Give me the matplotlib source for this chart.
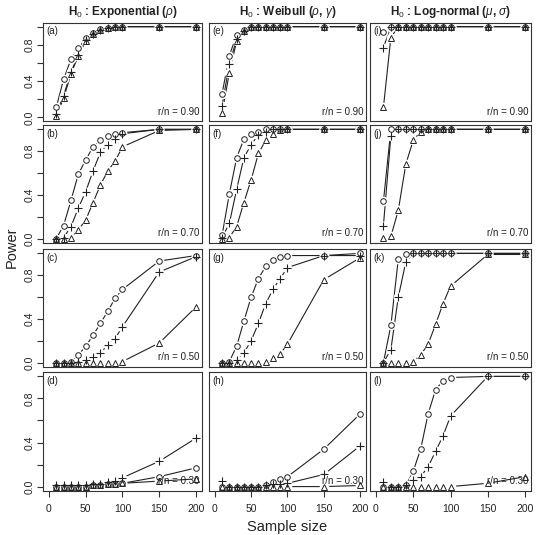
import matplotlib
matplotlib.use('Agg')
import matplotlib.pyplot as plt

plt.rcParams['font.family'] = 'Liberation Sans'
plt.rcParams['mathtext.fontset'] = 'custom'
plt.rcParams['mathtext.rm'] = 'Liberation Sans'
plt.rcParams['mathtext.it'] = 'Liberation Sans:italic'
plt.rcParams['mathtext.bf'] = 'Liberation Sans:bold'

# sample sizes
n = [10, 20, 30, 40, 50, 60, 70, 80, 90, 100, 150, 200]

titles = [r'$\mathbf{H}_0$ : Exponential ($\rho$)',
          r'$\mathbf{H}_0$ : Weibull ($\rho$, $\gamma$)',
          r'$\mathbf{H}_0$ : Log-normal ($\mu$, $\sigma$)']
ratios = ['0.90', '0.70', '0.50', '0.30']
letters = [['a', 'e', 'i'], ['b', 'f', 'j'], ['c', 'g', 'k'], ['d', 'h', 'l']]

# power values: circle / plus / triangle series
a_circ = [0.11, 0.42, 0.64, 0.76, 0.87, 0.93, 0.97, 0.99, 1.0, 1.0, 1.0, 1.0]
a_plus = [0.04, 0.24, 0.50, 0.69, 0.85, 0.92, 0.96, 0.98, 1.0, 1.0, 1.0, 1.0]
a_tri = [0.02, 0.21, 0.48, 0.68, 0.84, 0.92, 0.96, 0.98, 1.0, 1.0, 1.0, 1.0]

e_circ = [0.26, 0.68, 0.91, 0.96, 1.0, 1.0, 1.0, 1.0, 1.0, 1.0, 1.0, 1.0]
e_plus = [0.13, 0.59, 0.86, 0.95, 1.0, 1.0, 1.0, 1.0, 1.0, 1.0, 1.0, 1.0]
e_tri = [0.05, 0.49, 0.84, 0.95, 1.0, 1.0, 1.0, 1.0, 1.0, 1.0, 1.0, 1.0]

i_circ = [0.94, 1.0, 1.0, 1.0, 1.0, 1.0, 1.0, 1.0, 1.0, 1.0, 1.0, 1.0]
i_plus = [0.77, 1.0, 1.0, 1.0, 1.0, 1.0, 1.0, 1.0, 1.0, 1.0, 1.0, 1.0]
i_tri = [0.11, 0.88, 1.0, 1.0, 1.0, 1.0, 1.0, 1.0, 1.0, 1.0, 1.0, 1.0]

b_circ = [0.0, 0.12, 0.35, 0.59, 0.72, 0.84, 0.90, 0.94, 0.96, 0.97, 1.0, 1.0]
b_plus = [0.0, 0.01, 0.11, 0.28, 0.43, 0.62, 0.79, 0.86, 0.91, 0.96, 1.0, 1.0]
b_tri = [0.0, 0.0, 0.01, 0.08, 0.17, 0.33, 0.49, 0.62, 0.71, 0.84, 0.99, 1.0]

f_circ = [0.03, 0.41, 0.74, 0.91, 0.96, 0.98, 1.0, 1.0, 1.0, 1.0, 1.0, 1.0]
f_plus = [0.01, 0.14, 0.45, 0.74, 0.86, 0.95, 0.98, 1.0, 1.0, 1.0, 1.0, 1.0]
f_tri = [0.0, 0.01, 0.11, 0.33, 0.54, 0.78, 0.90, 0.96, 0.99, 1.0, 1.0, 1.0]

j_circ = [0.34, 1.0, 1.0, 1.0, 1.0, 1.0, 1.0, 1.0, 1.0, 1.0, 1.0, 1.0]
j_plus = [0.12, 0.94, 1.0, 1.0, 1.0, 1.0, 1.0, 1.0, 1.0, 1.0, 1.0, 1.0]
j_tri = [0.01, 0.02, 0.26, 0.68, 0.90, 0.98, 1.0, 1.0, 1.0, 1.0, 1.0, 1.0]

c_circ = [0.0, 0.0, 0.01, 0.07, 0.15, 0.25, 0.36, 0.47, 0.59, 0.67, 0.93, 0.98]
c_plus = [0.0, 0.0, 0.0, 0.01, 0.02, 0.05, 0.09, 0.16, 0.22, 0.33, 0.83, 0.97]
c_tri = [0.0, 0.0, 0.0, 0.0, 0.0, 0.0, 0.0, 0.0, 0.0, 0.01, 0.18, 0.51]

g_circ = [0.0, 0.01, 0.15, 0.38, 0.60, 0.77, 0.88, 0.94, 0.97, 0.98, 0.98, 1.0]
g_plus = [0.0, 0.0, 0.02, 0.09, 0.20, 0.36, 0.54, 0.67, 0.77, 0.87, 0.98, 0.98]
g_tri = [0.0, 0.0, 0.0, 0.0, 0.0, 0.0, 0.01, 0.04, 0.08, 0.17, 0.76, 0.96]

k_circ = [0.0, 0.34, 0.95, 0.99, 1.0, 1.0, 1.0, 1.0, 1.0, 1.0, 1.0, 1.0]
k_plus = [0.0, 0.12, 0.60, 0.92, 1.0, 1.0, 1.0, 1.0, 1.0, 1.0, 1.0, 1.0]
k_tri = [0.0, 0.0, 0.0, 0.0, 0.01, 0.07, 0.17, 0.35, 0.54, 0.70, 0.99, 0.99]

d_circ = [0.0, 0.0, 0.0, 0.0, 0.0, 0.01, 0.01, 0.02, 0.02, 0.03, 0.09, 0.17]
d_plus = [0.01, 0.01, 0.01, 0.01, 0.01, 0.02, 0.02, 0.04, 0.05, 0.08, 0.23, 0.44]
d_tri = [0.0, 0.0, 0.0, 0.0, 0.0, 0.01, 0.01, 0.02, 0.02, 0.03, 0.05, 0.07]

h_circ = [0.0, 0.0, 0.0, 0.0, 0.0, 0.0, 0.01, 0.04, 0.07, 0.09, 0.34, 0.66]
h_plus = [0.05, 0.0, 0.0, 0.0, 0.0, 0.0, 0.01, 0.02, 0.02, 0.03, 0.11, 0.37]
h_tri = [0.0, 0.0, 0.0, 0.0, 0.0, 0.0, 0.0, 0.0, 0.0, 0.0, 0.0, 0.01]

l_circ = [0.0, 0.0, 0.0, 0.01, 0.14, 0.34, 0.66, 0.88, 0.96, 0.99, 1.0, 1.0]
l_plus = [0.04, 0.0, 0.0, 0.01, 0.06, 0.09, 0.18, 0.32, 0.46, 0.64, 1.0, 1.0]
l_tri = [0.0, 0.0, 0.0, 0.0, 0.0, 0.0, 0.0, 0.0, 0.0, 0.0, 0.03, 0.09]

series = {
    'a': (a_circ, a_plus, a_tri), 'e': (e_circ, e_plus, e_tri), 'i': (i_circ, i_plus, i_tri),
    'b': (b_circ, b_plus, b_tri), 'f': (f_circ, f_plus, f_tri), 'j': (j_circ, j_plus, j_tri),
    'c': (c_circ, c_plus, c_tri), 'g': (g_circ, g_plus, g_tri), 'k': (k_circ, k_plus, k_tri),
    'd': (d_circ, d_plus, d_tri), 'h': (h_circ, h_plus, h_tri), 'l': (l_circ, l_plus, l_tri),
}

W, H = 536, 535
fig = plt.figure(figsize=(W / 100, H / 100), dpi=100)

# panel frames in pixels
cols = [(43, 202), (209, 366), (370, 531)]
rows = [(23, 121), (125, 243), (249, 367), (372, 491)]
ink = '#222222'

for r, (y0, y1) in enumerate(rows):
    for c, (x0, x1) in enumerate(cols):
        ax = fig.add_axes([x0 / W, 1 - y1 / H, (x1 - x0) / W, (y1 - y0) / H])
        circ, plus, tri = series[letters[r][c]]

        # lines first, then white gaps round the points (like R type="b"), then symbols
        for y in (circ, plus, tri):
            ax.plot(n, y, color=ink, lw=0.8, zorder=1)
        for y in (circ, plus, tri):
            ax.plot(n, y, ls='none', marker='o', ms=7, mfc='white', mec='none', zorder=2)
        ax.plot(n, circ, ls='none', marker='o', ms=4, mfc='none', mec=ink, mew=0.7, zorder=3)
        ax.plot(n, plus, ls='none', marker='+', ms=6, mec=ink, mew=0.8, zorder=3)
        ax.plot(n, tri, ls='none', marker='^', ms=4.5, mfc='none', mec=ink, mew=0.7, zorder=3)

        ax.set_xlim(-8, 208)
        ax.set_ylim(-0.04, 1.04)
        for s in ax.spines.values():
            s.set_color('#333333')
            s.set_linewidth(0.8)
            s.set_zorder(4)

        ax.set_xticks([0, 50, 100, 150, 200])
        ax.set_yticks([0.0, 0.2, 0.4, 0.6, 0.8, 1.0])
        ax.tick_params(direction='out', length=4, width=0.8, color='#333333',
                       labelsize=7.5, labelcolor='#222222')
        ax.tick_params(axis='x', pad=5)
        ax.tick_params(axis='y', pad=2)
        if c == 0:
            ax.set_yticklabels(['0.0', '', '0.4', '', '0.8', ''], rotation=90, va='center')
        else:
            ax.tick_params(axis='y', left=False, labelleft=False)
        if r < 3:
            ax.tick_params(axis='x', bottom=False, labelbottom=False)

        ax.text(0.02, 0.97, '(' + letters[r][c] + ')', transform=ax.transAxes,
                ha='left', va='top', fontsize=7, color=ink, zorder=5)
        ax.text(0.985, 0.04, 'r/n = ' + ratios[r], transform=ax.transAxes,
                ha='right', va='bottom', fontsize=7, color=ink, zorder=5)

for c, (x0, x1) in enumerate(cols):
    fig.text((x0 + x1) / 2 / W, 1 - 12 / H, titles[c], ha='center', va='center',
             fontsize=8.5, fontweight='bold', color=ink)

fig.text(12 / W, 1 - 247 / H, 'Power', rotation=90, ha='center', va='center',
         fontsize=10.5, color=ink)
fig.text(287 / W, 1 - 527 / H, 'Sample size', ha='center', va='center',
         fontsize=10.5, color=ink)

fig.savefig('out.png', dpi=100)
